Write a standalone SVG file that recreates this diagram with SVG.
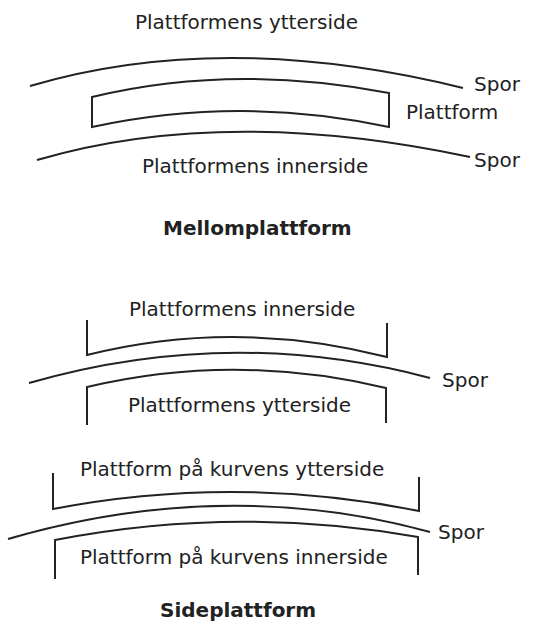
<svg xmlns="http://www.w3.org/2000/svg" width="554" height="621" viewBox="0 0 554 621">
<style>
  .t { font-family: "DejaVu Sans", Verdana, sans-serif; font-size: 20px; fill: #222; }
  .b { font-family: "DejaVu Sans", Verdana, sans-serif; font-size: 20px; font-weight: bold; fill: #222; }
  .ln { fill: none; stroke: #222; stroke-width: 2; stroke-linejoin: miter; }
</style>
<rect width="554" height="621" fill="#fff"/>
<g id="mellomplattform">
  <text class="t" x="135" y="29">Plattformens ytterside</text>
  <path id="spor1" class="ln" d="M30,86 Q223,29 463,88"/>
  <text class="t" x="474" y="91">Spor</text>
  <path id="plattform1" class="ln" d="M92,97 Q232,63 389,93 L389,127 Q240,95 92,127 Z"/>
  <text class="t" x="406" y="119">Plattform</text>
  <path id="spor2" class="ln" d="M37,160 Q225,105 470,157"/>
  <text class="t" x="474" y="167">Spor</text>
  <text class="t" x="142" y="173">Plattformens innerside</text>
  <text class="b" x="163" y="235">Mellomplattform</text>
</g>
<g id="sideplattform1">
  <text class="t" x="129" y="316">Plattformens innerside</text>
  <path class="ln" d="M87,320 L87,355 Q235,318 387,357 L387,323"/>
  <path id="spor3" class="ln" d="M29,383 Q230,325 430,378"/>
  <text class="t" x="442" y="387">Spor</text>
  <path class="ln" d="M87,425 L87,387 Q235,352 386,388 L386,423"/>
  <text class="t" x="128" y="412">Plattformens ytterside</text>
</g>
<g id="sideplattform2">
  <text class="t" x="80" y="476">Plattform på kurvens ytterside</text>
  <path class="ln" d="M53,473 L53,509 Q235,474 419,511 L419,477"/>
  <path id="spor4" class="ln" d="M8,539 Q225,476 430,532"/>
  <text class="t" x="438" y="539">Spor</text>
  <path class="ln" d="M55,579 L55,540 Q235,505 418,537 L418,575"/>
  <text class="t" x="80" y="564">Plattform på kurvens innerside</text>
  <text class="b" x="160" y="617">Sideplattform</text>
</g>
</svg>
